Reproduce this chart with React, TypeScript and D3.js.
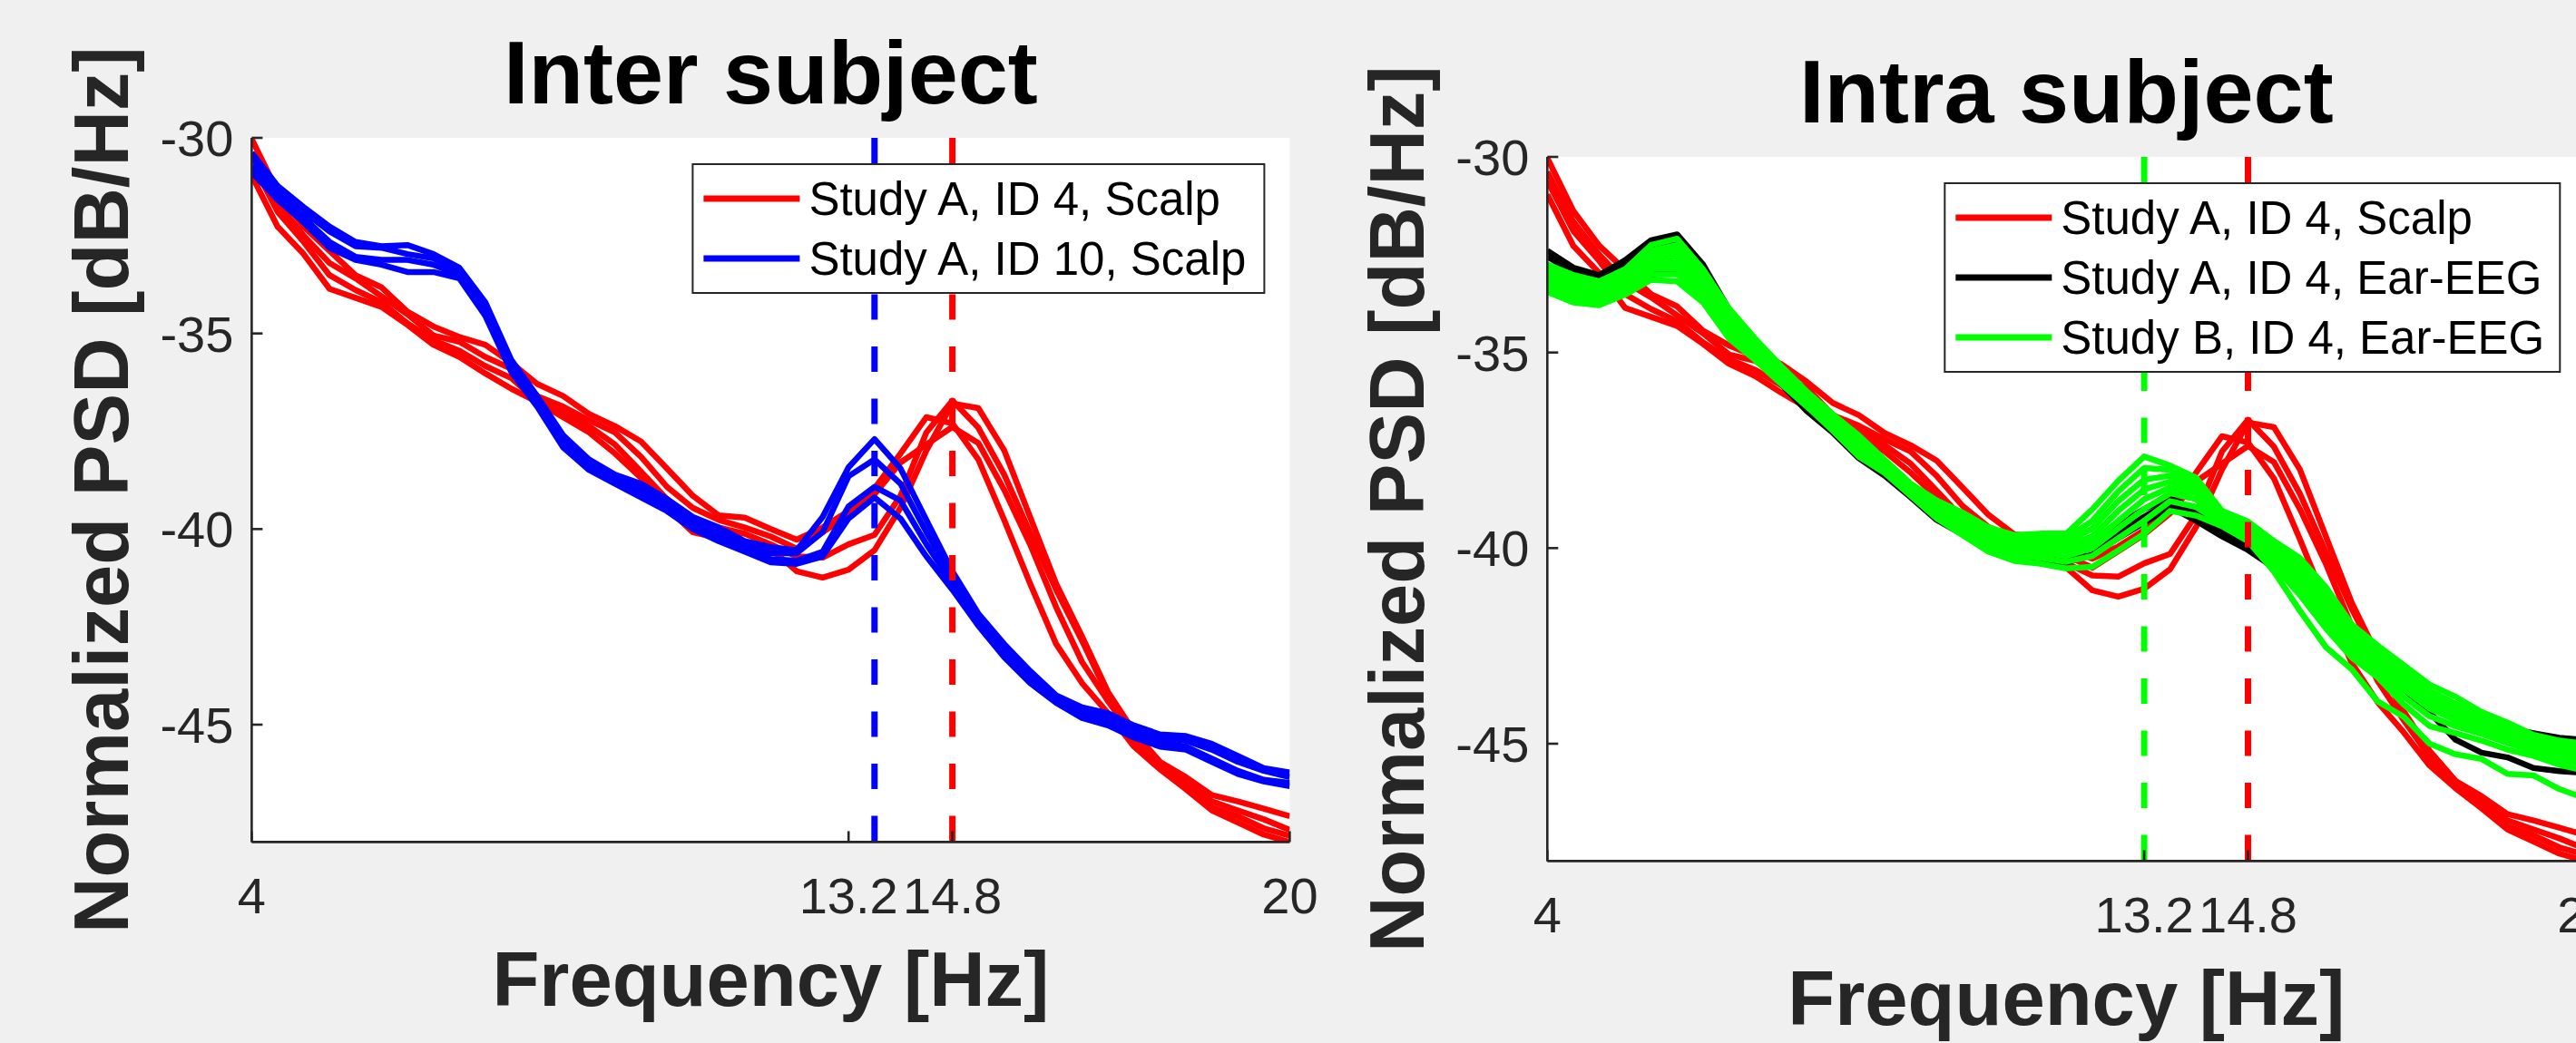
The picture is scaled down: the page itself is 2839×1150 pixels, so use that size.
import React from "react";
import * as d3 from "d3";

// frequency grid (Hz)
const freqs = [
  4.0, 4.4, 4.8, 5.2, 5.6, 6.0, 6.4, 6.8, 7.2, 7.6, 8.0, 8.4, 8.8, 9.2, 9.6, 10.0, 10.4, 10.8, 11.2, 11.6,
  12.0, 12.4, 12.8, 13.2, 13.6, 14.0, 14.4, 14.8, 15.2, 15.6, 16.0, 16.4, 16.8, 17.2, 17.6, 18.0, 18.4,
  18.8, 19.2, 19.6, 20.0,
];

// Study A, ID 4, Scalp (red) - same traces in both panels
const scalpA4 = [
  [-30.03, -31.38, -32.27, -32.89, -33.51, -33.82, -34.44, -34.82, -35.09, -35.29, -35.75, -36.29, -36.6, -37.06, -37.37, -37.76, -38.45, -39.15, -39.65, -39.71, -40.0, -40.27, -39.96, -39.54, -38.96, -38.07, -37.14, -37.3, -38.22, -39.77, -41.4, -42.94, -43.94, -44.71, -45.56, -46.14, -46.65, -47.19, -47.5, -47.81, -48.0],
  [-30.38, -31.65, -32.5, -33.2, -33.59, -34.05, -34.51, -35.05, -35.21, -35.6, -35.9, -36.6, -36.87, -37.22, -37.53, -38.15, -38.92, -39.46, -39.77, -39.96, -40.19, -40.5, -40.08, -39.65, -39.11, -38.3, -37.84, -37.39, -37.8, -39.0, -40.4, -42.0, -43.4, -44.4, -45.33, -46.03, -46.49, -46.96, -47.19, -47.42, -47.69],
  [-30.61, -31.89, -32.66, -33.51, -33.89, -34.2, -34.74, -35.17, -35.44, -35.83, -36.14, -36.72, -36.99, -37.37, -37.84, -38.53, -39.23, -39.77, -39.96, -40.12, -40.39, -40.7, -40.73, -40.39, -40.15, -39.15, -37.53, -36.72, -37.41, -38.61, -40.1, -41.55, -42.86, -44.25, -45.41, -46.11, -46.57, -47.11, -47.34, -47.65, -47.84],
  [-30.96, -32.27, -32.97, -33.86, -34.09, -34.32, -34.78, -35.29, -35.6, -36.02, -36.41, -36.75, -37.14, -37.53, -38.07, -38.69, -39.46, -40.08, -40.23, -40.39, -40.5, -41.08, -41.24, -41.04, -40.54, -39.46, -37.99, -36.79, -36.91, -37.99, -39.7, -41.4, -42.75, -44.17, -45.18, -45.95, -46.34, -46.8, -46.96, -47.15, -47.34],
];

// Study A, ID 10, Scalp (blue)
const scalpA10 = [
  [-30.38, -31.23, -31.77, -32.27, -32.66, -32.77, -32.74, -32.97, -33.32, -34.2, -35.67, -36.6, -37.6, -38.22, -38.61, -38.84, -39.23, -39.69, -39.96, -40.31, -40.46, -40.54, -39.69, -38.42, -37.7, -38.45, -39.77, -41.08, -42.16, -42.94, -43.63, -44.25, -44.56, -44.71, -45.02, -45.25, -45.29, -45.49, -45.8, -46.11, -46.22],
  [-30.49, -31.34, -31.89, -32.39, -32.77, -32.81, -32.97, -33.08, -33.39, -34.32, -35.79, -36.68, -37.72, -38.3, -38.69, -38.96, -39.34, -39.77, -40.08, -40.39, -40.62, -40.62, -40.08, -38.65, -38.22, -38.84, -40.08, -41.24, -42.28, -43.05, -43.75, -44.29, -44.64, -44.83, -45.14, -45.33, -45.41, -45.64, -45.95, -46.18, -46.34],
  [-30.73, -31.46, -32.04, -32.66, -33.04, -33.12, -33.12, -33.24, -33.51, -34.44, -35.87, -36.75, -37.84, -38.38, -38.76, -39.07, -39.46, -39.88, -40.19, -40.5, -40.77, -40.81, -40.58, -39.42, -38.92, -39.27, -40.39, -41.39, -42.36, -43.17, -43.83, -44.37, -44.75, -44.95, -45.22, -45.45, -45.56, -45.87, -46.18, -46.41, -46.49],
  [-30.88, -31.58, -32.16, -32.81, -33.12, -33.24, -33.43, -33.43, -33.59, -34.55, -35.98, -36.87, -37.91, -38.49, -38.84, -39.19, -39.54, -40.0, -40.31, -40.58, -40.85, -40.89, -40.7, -39.73, -39.19, -39.73, -40.7, -41.55, -42.47, -43.28, -43.94, -44.44, -44.83, -45.02, -45.33, -45.56, -45.64, -45.95, -46.26, -46.45, -46.57],
];

// Study A, ID 4, Ear-EEG (black)
const earA4 = [
  [-32.4, -32.83, -33.02, -32.64, -32.13, -31.98, -32.75, -33.9, -34.7, -35.4, -36.05, -36.65, -37.2, -37.8, -38.4, -38.85, -39.2, -39.6, -39.85, -39.9, -39.95, -39.8, -39.4, -39.0, -38.7, -39.05, -39.5, -39.85, -40.2, -40.7, -41.5, -42.3, -42.68, -43.22, -43.69, -44.15, -44.39, -44.6, -44.73, -44.85, -44.9],
  [-32.55, -32.95, -33.1, -32.8, -32.3, -32.2, -32.95, -34.1, -34.9, -35.6, -36.2, -36.8, -37.45, -37.95, -38.55, -39.05, -39.4, -39.85, -40.1, -40.2, -40.2, -40.0, -39.6, -39.2, -38.82, -39.2, -39.62, -39.95, -40.36, -40.83, -41.68, -42.45, -42.85, -43.4, -43.9, -44.4, -44.6, -44.8, -45.0, -45.1, -45.15],
  [-32.85, -33.1, -33.3, -33.37, -33.02, -32.9, -33.3, -34.5, -35.1, -35.8, -36.5, -37.05, -37.7, -38.15, -38.7, -39.28, -39.65, -40.05, -40.29, -40.36, -40.36, -40.17, -39.75, -39.35, -38.95, -39.3, -39.7, -40.05, -40.5, -41.0, -41.85, -42.6, -43.1, -43.6, -44.2, -44.9, -45.23, -45.35, -45.62, -45.7, -45.75],
];

// Study B, ID 4, Ear-EEG (green)
const earB4 = [
  [-32.75, -33.02, -33.18, -32.87, -32.25, -32.09, -32.87, -33.87, -34.64, -35.34, -36.0, -36.58, -37.12, -37.74, -38.35, -38.78, -39.09, -39.47, -39.67, -39.63, -39.63, -39.01, -38.28, -37.66, -37.89, -38.2, -39.05, -39.32, -39.82, -40.25, -41.0, -41.95, -42.49, -42.99, -43.49, -43.8, -44.19, -44.46, -44.77, -44.92, -45.0],
  [-32.85, -33.12, -33.28, -32.97, -32.4, -32.25, -33.0, -33.98, -34.72, -35.4, -36.05, -36.64, -37.2, -37.79, -38.4, -38.85, -39.17, -39.55, -39.75, -39.72, -39.75, -39.3, -38.55, -37.95, -38.0, -38.3, -39.1, -39.4, -39.92, -40.4, -41.2, -42.1, -42.62, -43.15, -43.65, -43.98, -44.3, -44.55, -44.85, -45.0, -45.08],
  [-32.95, -33.2, -33.35, -33.05, -32.5, -32.4, -33.1, -34.08, -34.8, -35.47, -36.1, -36.7, -37.28, -37.84, -38.44, -38.92, -39.25, -39.64, -39.83, -39.8, -39.85, -39.5, -38.8, -38.25, -38.15, -38.4, -39.15, -39.47, -40.02, -40.55, -41.4, -42.25, -42.75, -43.3, -43.8, -44.12, -44.42, -44.65, -44.93, -45.1, -45.18],
  [-33.0, -33.3, -33.42, -33.12, -32.62, -32.55, -33.22, -34.2, -34.88, -35.53, -36.15, -36.76, -37.35, -37.89, -38.48, -38.98, -39.33, -39.72, -39.9, -39.9, -39.95, -39.7, -39.05, -38.5, -38.3, -38.5, -39.2, -39.54, -40.12, -40.7, -41.55, -42.4, -42.88, -43.45, -43.95, -44.25, -44.53, -44.76, -45.0, -45.2, -45.28],
  [-33.1, -33.38, -33.5, -33.2, -32.75, -32.7, -33.35, -34.3, -34.95, -35.6, -36.2, -36.82, -37.42, -37.94, -38.52, -39.05, -39.4, -39.8, -39.98, -40.0, -40.08, -39.85, -39.3, -38.75, -38.45, -38.6, -39.26, -39.6, -40.22, -40.85, -41.7, -42.52, -43.0, -43.6, -44.1, -44.4, -44.63, -44.86, -45.08, -45.3, -45.38],
  [-33.2, -33.48, -33.58, -33.3, -32.85, -32.85, -33.45, -34.4, -35.02, -35.66, -36.26, -36.88, -37.5, -37.98, -38.57, -39.1, -39.48, -39.88, -40.08, -40.12, -40.2, -40.0, -39.5, -39.0, -38.6, -38.75, -39.32, -39.67, -40.32, -41.0, -41.85, -42.65, -43.12, -43.8, -44.3, -44.55, -44.75, -44.98, -45.18, -45.42, -45.52],
  [-33.3, -33.6, -33.68, -33.4, -33.0, -33.0, -33.58, -34.52, -35.1, -35.73, -36.32, -36.94, -37.58, -38.03, -38.62, -39.17, -39.57, -39.98, -40.2, -40.25, -40.35, -40.2, -39.75, -39.3, -38.8, -38.95, -39.38, -39.75, -40.45, -41.2, -42.05, -42.8, -43.3, -44.0, -44.55, -44.73, -44.92, -45.15, -45.31, -45.54, -45.7],
  [-33.45, -33.72, -33.79, -33.52, -33.14, -33.18, -33.72, -34.64, -35.19, -35.8, -36.38, -37.0, -37.66, -38.08, -38.66, -39.24, -39.67, -40.09, -40.33, -40.4, -40.52, -40.48, -40.06, -39.63, -39.05, -39.17, -39.44, -39.82, -40.6, -41.6, -42.53, -43.1, -43.92, -44.31, -45.0, -45.27, -45.39, -45.77, -45.81, -46.16, -46.4],
];

const yTicks = [-30, -35, -40, -45];
const xTicks = [4, 13.2, 14.8, 20];
const interPeaks = [13.6, 14.8];
const intraPeaks = [13.2, 14.8];

const interLegend = ["Study A, ID 4, Scalp", "Study A, ID 10, Scalp"];
const intraLegend = ["Study A, ID 4, Scalp", "Study A, ID 4, Ear-EEG", "Study B, ID 4, Ear-EEG"];

const W = 2839;
const H = 1150;
const plotW = 1144;
const plotH = 776.4;
const font = "'Liberation Sans', Arial, Helvetica, sans-serif";
const axisColor = "#262626";

function Panel({ left, top, title, groups, peaks, peakColors, legend, legendColors, legendWidth, id }) {
  const x = d3.scaleLinear().domain([4, 20]).range([left, left + plotW]);
  const y = d3.scaleLinear().domain([-48, -30]).range([top + plotH, top]);
  const line = d3
    .line<number>()
    .x((_, i) => x(freqs[i]))
    .y((d) => y(d));

  const lgX = left + plotW - 28 - legendWidth;
  const lgY = top + 29;
  const lgH = 76 + 66 * (legend.length - 1);

  return (
    <g>
      <rect x={left} y={top} width={plotW} height={plotH} fill="#fff" />
      <clipPath id={id}>
        <rect x={left} y={top} width={plotW} height={plotH} />
      </clipPath>

      <g clipPath={`url(#${id})`}>
        {groups.map((g, gi) =>
          g.traces.map((t, ti) => (
            <path
              key={gi + "-" + ti}
              d={line(t)}
              fill="none"
              stroke={g.color}
              strokeWidth={6.5}
              strokeLinejoin="round"
            />
          ))
        )}
        {peaks.map((p, i) => (
          <line
            key={"pk" + i}
            x1={x(p)}
            x2={x(p)}
            y1={top}
            y2={top + plotH}
            stroke={peakColors[i]}
            strokeWidth={7}
            strokeDasharray="28 29.5"
          />
        ))}
      </g>

      {/* axes */}
      <line x1={left} x2={left} y1={top} y2={top + plotH} stroke={axisColor} strokeWidth={2.6} />
      <line x1={left} x2={left + plotW} y1={top + plotH} y2={top + plotH} stroke={axisColor} strokeWidth={2.6} />
      {yTicks.map((t) => (
        <g key={"y" + t}>
          <line x1={left} x2={left + 12} y1={y(t)} y2={y(t)} stroke={axisColor} strokeWidth={2.6} />
          <text
            x={left - 20}
            y={y(t) + 20}
            textAnchor="end"
            fontSize={56}
            fontFamily={font}
            fill={axisColor}
          >
            {t}
          </text>
        </g>
      ))}
      {xTicks.map((t) => (
        <g key={"x" + t}>
          <line x1={x(t)} x2={x(t)} y1={top + plotH} y2={top + plotH - 12} stroke={axisColor} strokeWidth={2.6} />
          <text
            x={x(t)}
            y={top + plotH + 79}
            textAnchor="middle"
            fontSize={56}
            fontFamily={font}
            fill={axisColor}
          >
            {t}
          </text>
        </g>
      ))}

      {/* legend */}
      <rect x={lgX} y={lgY} width={legendWidth} height={lgH} fill="#fff" stroke={axisColor} strokeWidth={2} />
      {legend.map((name, i) => (
        <g key={"lg" + i}>
          <line
            x1={lgX + 12}
            x2={lgX + 118}
            y1={lgY + 38 + 66 * i}
            y2={lgY + 38 + 66 * i}
            stroke={legendColors[i]}
            strokeWidth={7}
          />
          <text x={lgX + 128} y={lgY + 38 + 66 * i + 18} fontSize={51} fontFamily={font} fill="#000">
            {name}
          </text>
        </g>
      ))}

      {/* labels */}
      <text
        x={left + plotW / 2}
        y={top - 38}
        textAnchor="middle"
        fontSize={99}
        fontWeight="bold"
        fontFamily={font}
        fill="#000"
      >
        {title}
      </text>
      <text
        x={left + plotW / 2}
        y={top + plotH + 181}
        textAnchor="middle"
        fontSize={85}
        fontWeight="bold"
        fontFamily={font}
        fill={axisColor}
      >
        Frequency [Hz]
      </text>
      <text
        transform={`translate(${left - 136},${top + plotH / 2}) rotate(-90)`}
        textAnchor="middle"
        fontSize={85}
        fontWeight="bold"
        fontFamily={font}
        fill={axisColor}
      >
        Normalized PSD [dB/Hz]
      </text>
    </g>
  );
}

export default function App() {
  return (
    <svg
      width={W}
      height={H}
      style={{ position: "fixed", left: 0, top: 0, background: "#f0f0f0" }}
    >
      <rect width={W} height={H} fill="#f0f0f0" />
      <Panel
        id="clipInter"
        left={277.4}
        top={152}
        title="Inter subject"
        groups={[
          { traces: scalpA4, color: "#ff0000" },
          { traces: scalpA10, color: "#0000ff" },
        ]}
        peaks={interPeaks}
        peakColors={["#0000ff", "#ff0000"]}
        legend={interLegend}
        legendColors={["#ff0000", "#0000ff"]}
        legendWidth={630}
      />
      <Panel
        id="clipIntra"
        left={1705.3}
        top={173}
        title="Intra subject"
        groups={[
          { traces: scalpA4, color: "#ff0000" },
          { traces: earA4, color: "#000000" },
          { traces: earB4, color: "#00ff00" },
        ]}
        peaks={intraPeaks}
        peakColors={["#00ff00", "#ff0000"]}
        legend={intraLegend}
        legendColors={["#ff0000", "#000000", "#00ff00"]}
        legendWidth={678}
      />
    </svg>
  );
}
